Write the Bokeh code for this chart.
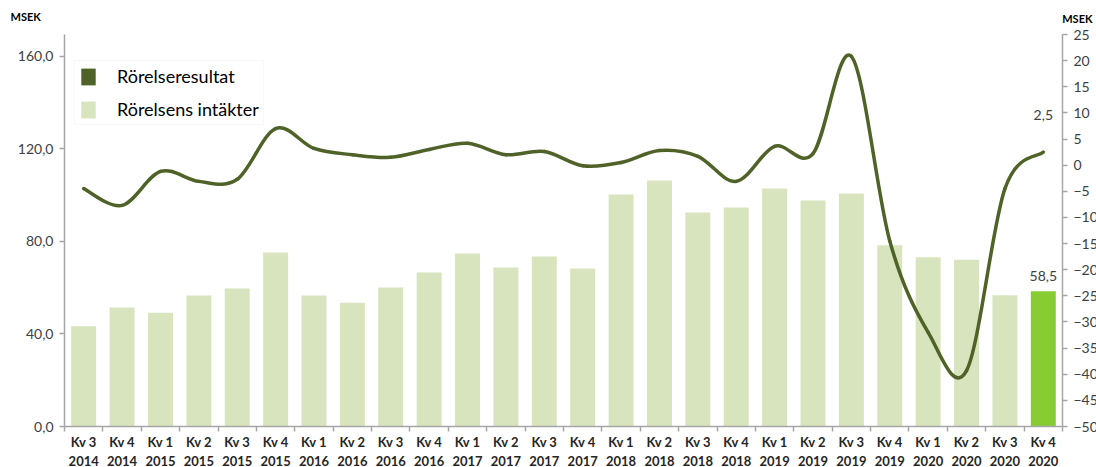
from bokeh.plotting import figure
from bokeh.models import (ColumnDataSource, Range1d, LinearAxis, FixedTicker,
                          Legend, LegendItem, Title)
from bokeh.core.properties import value
from bokeh.embed import file_html
from bokeh.resources import INLINE

quarters = ["Kv 3", "Kv 4", "Kv 1", "Kv 2", "Kv 3", "Kv 4", "Kv 1", "Kv 2", "Kv 3",
            "Kv 4", "Kv 1", "Kv 2", "Kv 3", "Kv 4", "Kv 1", "Kv 2", "Kv 3", "Kv 4",
            "Kv 1", "Kv 2", "Kv 3", "Kv 4", "Kv 1", "Kv 2", "Kv 3", "Kv 4"]
years = ["2014", "2014", "2015", "2015", "2015", "2015", "2016", "2016", "2016",
         "2016", "2017", "2017", "2017", "2017", "2018", "2018", "2018", "2018",
         "2019", "2019", "2019", "2019", "2020", "2020", "2020", "2020"]
intakter = [43.4, 51.5, 49.2, 56.6, 59.7, 75.2, 56.6, 53.5, 60.1, 66.6, 74.8, 68.8,
            73.5, 68.3, 100.3, 106.4, 92.5, 94.7, 102.9, 97.7, 100.8, 78.4, 73.2,
            72.1, 56.8, 58.5]
resultat = [-4.5, -7.7, -1.2, -3.1, -2.7, 7.0, 3.2, 2.0, 1.5, 3.0, 4.2, 2.0, 2.6,
            -0.1, 0.5, 2.8, 1.7, -3.1, 3.6, 2.2, 20.8, -14.5, -32.0, -39.3, -4.5, 2.5]
left_ticks = [0, 40, 80, 120, 160]
right_ticks = list(range(-50, 30, 5))
unit_label = "MSEK"

LIGHT = "#d7e4bd"
HIGHLIGHT = "#88cc33"
DARK = "#4f6228"
GRAY = "#a6a6a6"
FONT = "Lato"

n = len(quarters)
xc = [i + 0.5 for i in range(n)]

p = figure(frame_width=998, frame_height=392, x_range=Range1d(0, n),
           y_range=Range1d(0, 169.5), output_backend="svg", toolbar_location=None,
           min_border_left=64, min_border_right=32, min_border_top=34,
           min_border_bottom=36, x_axis_type=None, y_axis_type=None)
p.extra_y_ranges = {"right": Range1d(-50, 25)}
p.outline_line_color = None
p.background_fill_color = "white"
p.border_fill_color = "white"

# bars
colors = [LIGHT] * (n - 1) + [HIGHLIGHT]
bar_src = ColumnDataSource(dict(x=xc, top=intakter, color=colors))
p.vbar(x="x", top="top", width=0.65, fill_color="color", line_color=None, source=bar_src)

# smoothed line via bezier segments (Catmull-Rom style control points)
x0, y0, x1, y1, cx0, cy0, cx1, cy1 = [], [], [], [], [], [], [], []
for i in range(n - 1):
    a = max(i - 1, 0)
    d = min(i + 2, n - 1)
    x0.append(xc[i]); y0.append(resultat[i])
    x1.append(xc[i + 1]); y1.append(resultat[i + 1])
    cx0.append(xc[i] + (xc[i + 1] - xc[a]) / 6)
    cy0.append(resultat[i] + (resultat[i + 1] - resultat[a]) / 6)
    cx1.append(xc[i + 1] - (xc[d] - xc[i]) / 6)
    cy1.append(resultat[i + 1] - (resultat[d] - resultat[i]) / 6)
bz = ColumnDataSource(dict(x0=x0, y0=y0, x1=x1, y1=y1, cx0=cx0, cy0=cy0, cx1=cx1, cy1=cy1))
p.bezier(x0="x0", y0="y0", x1="x1", y1="y1", cx0="cx0", cy0="cy0", cx1="cx1", cy1="cy1",
         source=bz, line_color=DARK, line_width=3.5, line_cap="round", y_range_name="right")

# axes
left = LinearAxis(ticker=FixedTicker(ticks=left_ticks))
left.major_label_overrides = {t: f"{t:.1f}".replace(".", ",") for t in left_ticks}
right = LinearAxis(ticker=FixedTicker(ticks=right_ticks), y_range_name="right")
bottom = LinearAxis(ticker=FixedTicker(ticks=xc, minor_ticks=list(range(n + 1))))
bottom.major_label_overrides = {x: f"{q}\n{y}" for x, q, y in zip(xc, quarters, years)}

for ax in (left, right, bottom):
    ax.axis_line_color = GRAY
    ax.axis_line_width = 1.5
    ax.major_tick_line_color = GRAY
    ax.major_tick_line_width = 1.5
    ax.major_tick_in = 0
    ax.major_tick_out = 5
    ax.minor_tick_line_color = None
    ax.major_label_text_font = FONT
    ax.major_label_text_color = "#404040"
    ax.major_label_text_font_size = "14px"
    ax.major_label_standoff = 6

bottom.major_tick_line_color = None
bottom.minor_tick_line_color = GRAY
bottom.minor_tick_line_width = 1.5
bottom.minor_tick_in = 0
bottom.minor_tick_out = 5
bottom.major_label_text_font_style = "bold"
bottom.major_label_text_color = "#262626"
bottom.major_label_text_font_size = "13px"
bottom.major_label_standoff = 2

p.add_layout(left, "left")
p.add_layout(right, "right")
p.add_layout(bottom, "below")

p.ygrid.ticker = FixedTicker(ticks=left_ticks[1:])
p.ygrid.grid_line_color = GRAY
p.ygrid.grid_line_width = 1.5
p.xgrid.grid_line_color = None

# data labels
p.text(x=[xc[-1]], y=[resultat[-1]], text=[f"{resultat[-1]:.1f}".replace(".", ",")],
       y_range_name="right", y_offset=-32, text_align="center", text_baseline="bottom",
       text_font=value(FONT), text_font_size="14px", text_color="#404040")
p.text(x=[xc[-1]], y=[intakter[-1]], text=[f"{intakter[-1]:.1f}".replace(".", ",")],
       y_offset=-10, text_align="center", text_baseline="bottom",
       text_font=value(FONT), text_font_size="14px", text_color="#404040")

# unit labels
p.add_layout(Title(text=unit_label, align="right", offset=-30, text_font=FONT,
                   text_font_size="11px", text_font_style="bold", text_color="black",
                   standoff=19), "above")
p.add_layout(Title(text=unit_label, align="left", offset=-54, text_font=FONT,
                   text_font_size="11px", text_font_style="bold", text_color="black",
                   standoff=-45), "above")

# legend
leg_dark = p.vbar(x=[0.5], top=[0], width=0.5, fill_color=DARK, line_color=None)
leg_light = p.vbar(x=[0.5], top=[0], width=0.5, fill_color=LIGHT, line_color=None)
legend = Legend(items=[LegendItem(label="Rörelseresultat", renderers=[leg_dark]),
                       LegendItem(label="Rörelsens intäkter", renderers=[leg_light])],
                location=(10, 301), glyph_width=18, glyph_height=21, spacing=11,
                padding=4, margin=0, label_standoff=20, label_text_font=FONT,
                label_text_font_size="18px", label_text_color="black",
                label_height=21, border_line_color="#f2f2f2", background_fill_alpha=1)
p.add_layout(legend)

open("out.html", "w").write(file_html(p, INLINE))
